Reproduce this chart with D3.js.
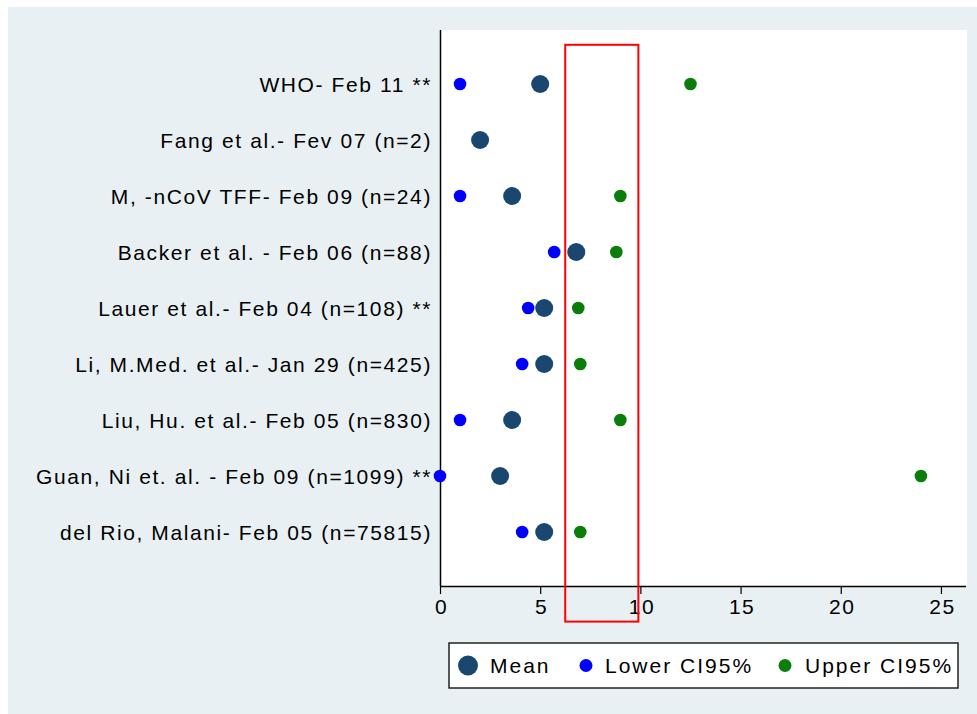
<!DOCTYPE html>
<html>
<head>
<meta charset="utf-8">
<script src="https://cdn.jsdelivr.net/npm/d3@7/dist/d3.min.js"></script>
<style>
  html, body { margin: 0; padding: 0; background: #ffffff; }
  svg { display: block; font-family: "Liberation Sans", Arial, Helvetica, sans-serif; }
</style>
</head>
<body>
<svg id="chart" width="977" height="714"></svg>
<script>
// ---- data (top row first) ----
const studies = [
  "WHO- Feb 11 **",
  "Fang et al.- Fev 07 (n=2)",
  "M, -nCoV TFF- Feb 09 (n=24)",
  "Backer et al. - Feb 06 (n=88)",
  "Lauer et al.- Feb 04 (n=108) **",
  "Li, M.Med. et al.- Jan 29 (n=425)",
  "Liu, Hu. et al.- Feb 05 (n=830)",
  "Guan, Ni et. al. - Feb 09 (n=1099) **",
  "del Rio, Malani- Feb 05 (n=75815)"
];
const meanVals  = [5.0, 2.0, 3.6, 6.8, 5.2, 5.2, 3.6, 3.0, 5.2];
const lowerVals = [1.0, null, 1.0, 5.7, 4.4, 4.1, 1.0, 0.0, 4.1];
const upperVals = [12.5, null, 9.0, 8.8, 6.9, 7.0, 9.0, 24.0, 7.0];
const xTicks = [0, 5, 10, 15, 20, 25];
const highlightX = [6.25, 9.9];
const highlightY = [-0.6, 9.7];
const legendLabels = ["Mean", "Lower CI95%", "Upper CI95%"];

// ---- layout ----
const svg = d3.select("#chart");
const plot = { left: 440, right: 967, top: 30, bottom: 586 };
const colMean = "#1a476f", colLower = "#0000ff", colUpper = "#0a7d0a";

const x = d3.scaleLinear().domain([0, 26.3]).range([plot.left, plot.right]);
const y = d3.scaleLinear().domain([0, 10]).range([588, 28]);
const rowVal = i => studies.length - i;

// background
svg.append("rect").attr("x", 8).attr("y", 7).attr("width", 969).attr("height", 707).attr("fill", "#e9f0f3");
svg.append("rect").attr("x", plot.left).attr("y", plot.top)
  .attr("width", plot.right - plot.left).attr("height", plot.bottom - plot.top).attr("fill", "#ffffff");

// x axis
const xAxis = d3.axisBottom(x).tickValues(xTicks).tickSize(8).tickPadding(5).tickFormat(d3.format("d"));
const gx = svg.append("g").attr("transform", `translate(0,${plot.bottom})`).call(xAxis);
gx.select(".domain").attr("d", `M${plot.left},0.5H${plot.right - 1}`).attr("stroke", "#000").attr("stroke-width", 1.5);
gx.selectAll(".tick line").attr("stroke", "#000").attr("stroke-width", 1.2);
gx.selectAll(".tick text").attr("font-size", 21).attr("fill", "#000")
  .attr("font-family", "Liberation Sans, Arial, sans-serif")
  .style("letter-spacing", "1.5px").attr("dx", 1);

// y axis (labels only)
const yAxis = d3.axisLeft(y).tickValues(studies.map((s, i) => rowVal(i)))
  .tickFormat(v => studies[studies.length - v]).tickSize(0).tickPadding(8);
const gy = svg.append("g").attr("transform", `translate(${plot.left},0)`).call(yAxis);
gy.select(".domain").attr("d", `M0.5,${plot.top}V${plot.bottom}`).attr("stroke", "#000").attr("stroke-width", 1.5);
gy.selectAll(".tick text").attr("font-size", 21).attr("fill", "#000")
  .attr("font-family", "Liberation Sans, Arial, sans-serif")
  .style("letter-spacing", "1.6px").attr("dx", 0).attr("dy", "0.35em");

// points
const rows = studies.map((s, i) => ({ s, v: rowVal(i), m: meanVals[i], lo: lowerVals[i], up: upperVals[i] }));
svg.append("g").selectAll("circle").data(rows.filter(d => d.m != null)).join("circle")
  .attr("cx", d => x(d.m)).attr("cy", d => y(d.v)).attr("r", 9).attr("fill", colMean);
svg.append("g").selectAll("circle").data(rows.filter(d => d.lo != null)).join("circle")
  .attr("cx", d => x(d.lo)).attr("cy", d => y(d.v)).attr("r", 6.3).attr("fill", colLower);
svg.append("g").selectAll("circle").data(rows.filter(d => d.up != null)).join("circle")
  .attr("cx", d => x(d.up)).attr("cy", d => y(d.v)).attr("r", 6.3).attr("fill", colUpper);

// highlight rectangle
svg.append("rect")
  .attr("x", x(highlightX[0])).attr("y", y(highlightY[1]))
  .attr("width", x(highlightX[1]) - x(highlightX[0]))
  .attr("height", y(highlightY[0]) - y(highlightY[1]))
  .attr("fill", "none").attr("stroke", "#ff0000").attr("stroke-width", 2);

// legend
const lg = svg.append("g");
lg.append("rect").attr("x", 449).attr("y", 643).attr("width", 509).attr("height", 45)
  .attr("fill", "#ffffff").attr("stroke", "#222").attr("stroke-width", 1.5);
const legendItems = [
  { label: legendLabels[0], color: colMean, r: 10, cx: 468, tx: 490 },
  { label: legendLabels[1], color: colLower, r: 6.5, cx: 586, tx: 605 },
  { label: legendLabels[2], color: colUpper, r: 6.5, cx: 785, tx: 805 }
];
legendItems.forEach(it => {
  lg.append("circle").attr("cx", it.cx).attr("cy", 665.5).attr("r", it.r).attr("fill", it.color);
  lg.append("text").attr("x", it.tx).attr("y", 673).attr("font-size", 21).attr("fill", "#000")
    .style("letter-spacing", "2px").text(it.label);
});
</script>
</body>
</html>
